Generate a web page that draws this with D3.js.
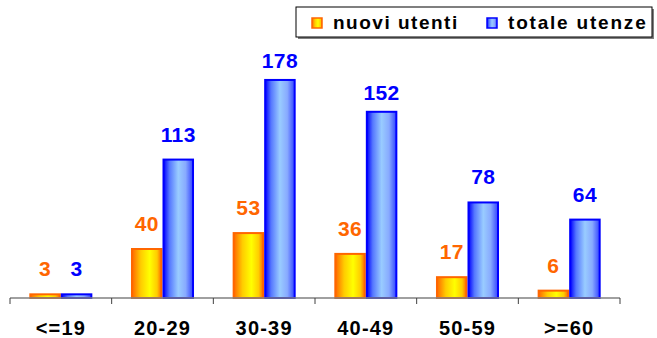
<!DOCTYPE html>
<html lang="it">
<head>
<meta charset="utf-8">
<style>
  body { margin: 0; background: #fff; }
  text { font-family: "Liberation Sans", Arial, sans-serif; font-weight: bold; }
</style>
</head>
<body>
<svg width="657" height="338"></svg>
<script src="https://cdnjs.cloudflare.com/ajax/libs/d3/7.8.5/d3.min.js"></script>
<script>
// dati
var categories = ["<=19", "20-29", "30-39", "40-49", "50-59", ">=60"];
var nuoviUtenti = [3, 40, 53, 36, 17, 6];
var totaleUtenze = [3, 113, 178, 152, 78, 64];
var seriesNames = ["nuovi utenti", "totale utenze"];

var svg = d3.select("svg");

// gradienti stile excel
var defs = svg.append("defs");
function grad(id, stops) {
    var g = defs.append("linearGradient").attr("id", id)
        .attr("x1", "0%").attr("x2", "100%").attr("y1", "0%").attr("y2", "0%");
    stops.forEach(function (s) {
        g.append("stop").attr("offset", s[0]).attr("stop-color", s[1]);
    });
}
grad("gOrange", [["0%", "#ff6600"], ["30%", "#ffcc00"], ["60%", "#ffff00"], ["85%", "#ffcc00"], ["100%", "#ff6600"]]);
grad("gBlue", [["0%", "#0000ff"], ["20%", "#5577ff"], ["50%", "#99ccff"], ["75%", "#88aaff"], ["100%", "#3344ff"]]);

var fills = ["url(#gOrange)", "url(#gBlue)"];
var strokes = ["#ff6600", "#0000ff"];

var x0 = d3.scaleBand().domain(categories).range([10, 620]).padding(0);
var x1 = d3.scaleBand().domain(seriesNames)
    .range([x0.bandwidth() * 0.19, x0.bandwidth() * 0.81]).padding(0);
var y = d3.scaleLinear().domain([0, 200]).range([298, 53]);

var data = categories.map(function (c, i) {
    return { cat: c, vals: [nuoviUtenti[i], totaleUtenze[i]] };
});

// barre
var groups = svg.append("g").selectAll("g")
    .data(data).enter().append("g")
    .attr("transform", function (d) { return "translate(" + x0(d.cat) + ",0)"; });

groups.selectAll("rect")
    .data(function (d) { return d.vals.map(function (v, k) { return { k: k, v: v }; }); })
    .enter().append("rect")
    .attr("x", function (d) { return x1(seriesNames[d.k]) + 1; })
    .attr("width", x1.bandwidth() - 2)
    .attr("y", function (d) { return y(d.v); })
    .attr("height", function (d) { return y(0) - y(d.v); })
    .attr("fill", function (d) { return fills[d.k]; })
    .attr("stroke", function (d) { return strokes[d.k]; })
    .attr("stroke-width", 2);

// etichette valori (quelle in alto un po' piu' vicine alla barra)
groups.selectAll("text.val")
    .data(function (d) { return d.vals.map(function (v, k) { return { k: k, v: v }; }); })
    .enter().append("text")
    .attr("class", "val")
    .attr("x", function (d) { return x1(seriesNames[d.k]) + x1.bandwidth() / 2; })
    .attr("y", function (d) { return y(d.v) - (d.v > 140 ? 12 : 18); })
    .attr("text-anchor", "middle")
    .attr("font-size", 21)
    .attr("letter-spacing", 0.4)
    .attr("fill", function (d) { return strokes[d.k]; })
    .text(function (d) { return d.v; });

// asse x
var xAxis = svg.append("g").attr("transform", "translate(0,298)");
xAxis.append("line").attr("x1", 10).attr("x2", 620)
    .attr("stroke", "#808080").attr("stroke-width", 1.5);
xAxis.selectAll("line.tick")
    .data(d3.range(categories.length + 1)).enter().append("line")
    .attr("class", "tick")
    .attr("x1", function (i) { return 10 + i * x0.step(); })
    .attr("x2", function (i) { return 10 + i * x0.step(); })
    .attr("y1", 0).attr("y2", 6)
    .attr("stroke", "#404040").attr("stroke-width", 1);
xAxis.selectAll("text")
    .data(categories).enter().append("text")
    .attr("x", function (d) { return x0(d) + x0.bandwidth() / 2; })
    .attr("y", 37)
    .attr("text-anchor", "middle")
    .attr("font-size", 20)
    .attr("letter-spacing", 1.2)
    .attr("fill", "#000")
    .text(function (d) { return d; });

// legenda
var leg = svg.append("g");
leg.append("rect").attr("x", 298).attr("y", 9).attr("width", 356).attr("height", 30)
    .attr("fill", "#808080");
leg.append("rect").attr("x", 296).attr("y", 7).attr("width", 356).attr("height", 30)
    .attr("fill", "#fff").attr("stroke", "#000").attr("stroke-width", 1);
var legX = [312, 487];
seriesNames.forEach(function (s, k) {
    leg.append("rect").attr("x", legX[k]).attr("y", 18).attr("width", 10).attr("height", 10)
        .attr("fill", fills[k]).attr("stroke", strokes[k]).attr("stroke-width", 1.5);
    leg.append("text").attr("x", legX[k] + 21).attr("y", 29)
        .attr("font-size", 19).attr("letter-spacing", k ? 1.8 : 1.5)
        .attr("fill", "#000").text(s);
});
</script>
</body>
</html>
